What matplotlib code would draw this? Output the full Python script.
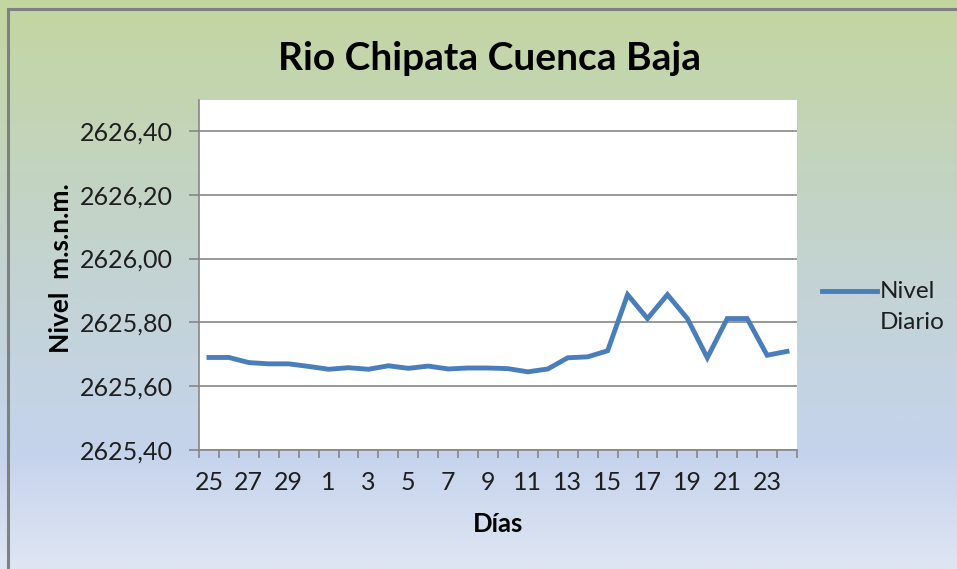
import numpy as np
import matplotlib
matplotlib.use("Agg")
import matplotlib.pyplot as plt
from matplotlib.colors import LinearSegmentedColormap
from matplotlib.patches import Rectangle
from matplotlib.lines import Line2D

dias = ["25", "26", "27", "28", "29", "30"] + [str(d) for d in range(1, 25)]
nivel = [2625.690, 2625.690, 2625.674, 2625.670, 2625.670, 2625.662,
         2625.653, 2625.658, 2625.653, 2625.664, 2625.656, 2625.663,
         2625.654, 2625.657, 2625.657, 2625.655, 2625.645, 2625.654,
         2625.689, 2625.692, 2625.711, 2625.887, 2625.812, 2625.887,
         2625.812, 2625.689, 2625.812, 2625.812, 2625.697, 2625.709]
y_ticks = [2625.40, 2625.60, 2625.80, 2626.00, 2626.20, 2626.40]
serie = "Nivel\nDiario"

plt.rcParams['font.family'] = ['Lato', 'DejaVu Sans']
azul = "#4a7ebb"
gris = "#868686"

fig = plt.figure(figsize=(9.57, 5.69), dpi=100)

# fondo degradado del area del grafico
bg = fig.add_axes([0, 0, 1, 1], zorder=-10)
grad = LinearSegmentedColormap.from_list(
    "bg", [(0.0, "#c4d6a0"), (0.45, "#c3d3d0"), (0.8, "#c5d3ec"), (1.0, "#dfe6f3")])
bg.imshow(np.linspace(0, 1, 256).reshape(-1, 1), aspect="auto", cmap=grad,
          extent=[0, 1, 0, 1])
bg.add_patch(Rectangle((8 / 957, -0.1), 1.2, 1.1 - 9 / 569, fill=False,
                       edgecolor="#808080", lw=2.2))
bg.set_xlim(0, 1)
bg.set_ylim(0, 1)
bg.axis("off")

ax = fig.add_axes([199 / 957, 1 - 450 / 569, 598 / 957, 350 / 569])
ax.set_facecolor("white")
x = np.arange(len(dias))
ax.plot(x, nivel, color=azul, lw=3.5, solid_joinstyle="miter")

ax.set_xlim(-0.5, len(dias) - 0.5)
ax.set_ylim(2625.40, 2626.497)
ax.set_yticks(y_ticks)
ax.set_yticklabels([f"{v:.2f}".replace(".", ",") for v in y_ticks], fontsize=18, color="#1e1e1e")
ax.set_xticks(x[::2])
ax.set_xticklabels(dias[::2], fontsize=18, color="#1e1e1e")
ax.set_xticks(np.arange(-0.5, len(dias)), minor=True)
ax.tick_params(axis="x", which="major", length=0, pad=15)
ax.tick_params(axis="x", which="minor", length=6, color=gris, width=1.2)
ax.tick_params(axis="y", length=7, color=gris, width=1.2, pad=12)
ax.grid(axis="y", color=gris, lw=1.2)
ax.set_axisbelow(True)
for s in ["top", "right"]:
    ax.spines[s].set_visible(False)
for s in ["left", "bottom"]:
    ax.spines[s].set_color(gris)
    ax.spines[s].set_linewidth(1.2)

ax.set_ylabel("Nivel  m.s.n.m.", fontsize=19, fontweight="bold")
ax.yaxis.set_label_coords((73 - 199) / 598, (450 - 268) / 350)
ax.set_xlabel("Días", fontsize=18.5, fontweight="bold", labelpad=13)

fig.text(489 / 957, 1 - 70 / 569, "Rio Chipata Cuenca Baja", fontsize=28,
         fontweight="bold", ha="center", va="baseline")

# leyenda
fig.add_artist(Line2D([822 / 957, 877 / 957], [1 - 291 / 569] * 2,
                      color=azul, lw=3.5, transform=fig.transFigure))
fig.text(880 / 957, 1 - 281 / 569, serie, fontsize=17.5, color="#1e1e1e",
         ha="left", va="top", linespacing=1.6)

fig.savefig("out.png", dpi=100)
